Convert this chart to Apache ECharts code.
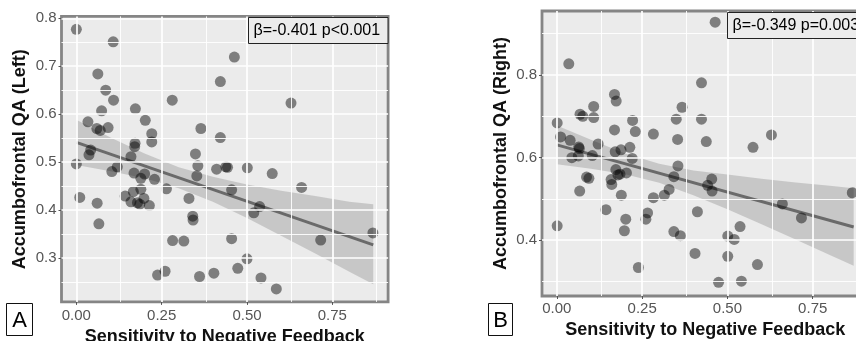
<!DOCTYPE html>
<html><head><meta charset="utf-8">
<script src="https://cdn.jsdelivr.net/npm/echarts@6/dist/echarts.min.js"></script>
<style>html,body{margin:0;padding:0;background:#fff;}#c{width:856px;height:341px;}</style>
</head><body><div id="c"></div>
<script>
// ---------- data ----------
const aX = [0.000,0.108,0.463,0.063,0.422,0.086,0.109,0.281,0.629,0.173,0.074,0.202,0.034,0.365,0.093,0.060,0.070,0.221,0.422,0.221,0.172,0.171,0.349,0.042,0.037,0.000,0.160,0.356,0.120,0.438,0.443,0.501,0.411,0.104,0.574,0.169,0.200,0.353,0.189,0.229,0.660,0.264,0.455,0.189,0.167,0.143,0.010,0.330,0.198,0.160,0.179,0.186,0.061,0.214,0.537,0.520,0.341,0.342,0.066,0.869,0.455,0.282,0.315,0.716,0.500,0.473,0.260,0.238,0.403,0.361,0.541,0.586];
const aY = [0.777,0.751,0.719,0.684,0.668,0.650,0.629,0.629,0.623,0.611,0.607,0.587,0.584,0.570,0.572,0.570,0.566,0.559,0.551,0.542,0.539,0.532,0.517,0.525,0.515,0.496,0.511,0.492,0.490,0.490,0.489,0.488,0.485,0.480,0.476,0.477,0.475,0.471,0.466,0.464,0.447,0.444,0.442,0.443,0.438,0.429,0.426,0.424,0.424,0.417,0.415,0.412,0.414,0.409,0.407,0.394,0.387,0.379,0.371,0.352,0.340,0.336,0.335,0.337,0.298,0.278,0.272,0.264,0.268,0.261,0.258,0.235];
const bX = [0.464,0.035,0.424,0.169,0.174,0.367,0.108,0.068,0.076,0.108,0.350,0.424,0.222,0.001,0.169,0.230,0.283,0.629,0.011,0.039,0.354,0.438,0.121,0.064,0.066,0.214,0.575,0.188,0.171,0.104,0.063,0.044,0.221,0.355,0.173,0.204,0.185,0.179,0.343,0.087,0.094,0.454,0.159,0.161,0.442,0.329,0.455,0.067,0.866,0.315,0.189,0.283,0.661,0.144,0.412,0.266,0.261,0.202,0.717,0.001,0.537,0.198,0.343,0.362,0.501,0.520,0.405,0.501,0.588,0.239,0.474,0.541];
const bY = [0.928,0.827,0.781,0.753,0.737,0.722,0.724,0.705,0.700,0.697,0.693,0.693,0.690,0.684,0.667,0.663,0.657,0.655,0.650,0.642,0.644,0.639,0.633,0.626,0.622,0.625,0.625,0.619,0.614,0.605,0.604,0.600,0.598,0.580,0.571,0.563,0.560,0.558,0.554,0.553,0.550,0.548,0.547,0.535,0.533,0.523,0.519,0.519,0.515,0.509,0.509,0.503,0.488,0.474,0.469,0.466,0.451,0.451,0.454,0.435,0.433,0.423,0.421,0.411,0.410,0.402,0.368,0.361,0.341,0.334,0.298,0.301];

const fitX = [0, 0.87];
const aFitY = [0.541, 0.327];
const bFitY = [0.631, 0.432];

const bandX   = [0, 0.1, 0.2, 0.3, 0.4, 0.5, 0.6, 0.7, 0.8, 0.87];
const aBandLo = [0.494,0.481,0.466,0.445,0.417,0.383,0.346,0.309,0.271,0.245];
const aBandHi = [0.588,0.551,0.518,0.489,0.469,0.453,0.440,0.429,0.417,0.412];
const bBandLo = [0.584,0.573,0.560,0.539,0.509,0.475,0.439,0.402,0.364,0.338];
const bBandHi = [0.678,0.643,0.610,0.585,0.569,0.559,0.549,0.540,0.532,0.526];

const xTicks  = [0, 0.25, 0.5, 0.75];
const xMinor  = [0.125, 0.375, 0.625, 0.875];
const aYTicks = [0.3, 0.4, 0.5, 0.6, 0.7, 0.8];
const aYMinor = [0.25, 0.35, 0.45, 0.55, 0.65, 0.75];
const bYTicks = [0.4, 0.6, 0.8];
const bYMinor = [0.3, 0.5, 0.7, 0.9];

const xTitle = 'Sensitivity to Negative Feedback';
const aYTitle = 'Accumbofrontal QA (Left)';
const bYTitle = 'Accumbofrontal QA (Right)';
const aStat = 'β=-0.401 p<0.001';
const bStat = 'β=-0.349 p=0.003';
const panelTags = ['A', 'B'];

// ---------- chart ----------
const FONT = "'Liberation Sans', Arial, sans-serif";
const chart = echarts.init(document.getElementById('c'), null, {renderer: 'canvas'});

function grid(left, top, width, height) {
  return {left, top, width, height, show: true, backgroundColor: '#EBEBEB',
          borderColor: '#858585', borderWidth: 2.8, containLabel: false, outerBoundsMode: 'none'};
}
function xAxis(gi, gap, margin) {
  return {type: 'value', gridIndex: gi, min: -0.0435, max: 0.9135,
    splitLine: {show: false}, axisLine: {show: false, onZero: false},
    axisTick: {show: true, length: 3, customValues: xTicks, lineStyle: {color: '#555', width: 1}},
    axisLabel: {customValues: xTicks, formatter: v => v.toFixed(2), color: '#555555',
                fontSize: 15, margin, fontFamily: FONT},
    name: xTitle, nameLocation: 'middle', nameGap: gap,
    nameTextStyle: {fontWeight: 'bold', fontSize: 18, color: '#111', fontFamily: FONT}};
}
function yAxis(gi, min, max, ticks, title) {
  return {type: 'value', gridIndex: gi, min, max,
    splitLine: {show: false}, axisLine: {show: false, onZero: false},
    axisTick: {show: true, length: 3, customValues: ticks, lineStyle: {color: '#555', width: 1}},
    axisLabel: {customValues: ticks, formatter: v => v.toFixed(1), color: '#555555',
                fontSize: 15, margin: 5, fontFamily: FONT},
    name: title, nameLocation: 'middle', nameGap: 32, nameRotate: 90,
    nameTextStyle: {fontWeight: 'bold', fontSize: 18, color: '#111', fontFamily: FONT}};
}
function gridLines(gi, yMaj, yMin) {
  const d = [];
  xTicks.forEach(v => d.push({xAxis: v, lineStyle: {width: 1.7}}));
  xMinor.forEach(v => d.push({xAxis: v, lineStyle: {width: 0.9}}));
  yMaj.forEach(v => d.push({yAxis: v, lineStyle: {width: 1.7}}));
  yMin.forEach(v => d.push({yAxis: v, lineStyle: {width: 0.9}}));
  return {type: 'line', xAxisIndex: gi, yAxisIndex: gi, data: [], z: 1, silent: true,
    markLine: {silent: true, symbol: 'none', animation: false, label: {show: false},
      lineStyle: {color: '#FFFFFF', type: 'solid', opacity: 1}, emphasis: {disabled: true}, data: d}};
}
function band(gi, lo, hi) {
  return {type: 'custom', xAxisIndex: gi, yAxisIndex: gi, z: 2, silent: true,
    data: bandX.map((x, i) => [x, lo[i], hi[i]]),
    encode: {x: 0, y: [1, 2]},
    renderItem(params, api) {
      if (params.dataIndex !== 0) return null;
      const pts = [];
      for (let i = 0; i < bandX.length; i++) pts.push(api.coord([bandX[i], hi[i]]));
      for (let i = bandX.length - 1; i >= 0; i--) pts.push(api.coord([bandX[i], lo[i]]));
      return {type: 'polygon', shape: {points: pts}, style: {fill: 'rgba(150,150,150,0.42)'}};
    }};
}
function fit(gi, ys) {
  return {type: 'line', xAxisIndex: gi, yAxisIndex: gi, z: 3, silent: true, showSymbol: false,
    data: fitX.map((x, i) => [x, ys[i]]), lineStyle: {color: '#6A6A6A', width: 3}};
}
function pts(gi, xs, ys) {
  return {type: 'scatter', xAxisIndex: gi, yAxisIndex: gi, z: 4, silent: true,
    symbolSize: 11, data: xs.map((x, i) => [x, ys[i]]),
    itemStyle: {color: 'rgba(0,0,0,0.58)'}};
}
function statBox(x, y, w, h, text) {
  return [
    {type: 'rect', z: 100, shape: {x, y, width: w, height: h},
     style: {fill: '#ECECEC', stroke: '#222', lineWidth: 1}},
    {type: 'text', z: 101, x: x + 5, y: y + h / 2,
     style: {text, fontSize: 16, fontFamily: FONT, fill: '#000', align: 'left', verticalAlign: 'middle'}}
  ];
}
function tagBox(x, y, w, h, text) {
  return [
    {type: 'rect', z: 100, shape: {x, y, width: w, height: h},
     style: {fill: '#fff', stroke: '#111', lineWidth: 1}},
    {type: 'text', z: 101, x: x + w / 2, y: y + h / 2 + 1,
     style: {text, fontSize: 22, fontFamily: FONT, fill: '#000', align: 'center', verticalAlign: 'middle'}}
  ];
}

chart.setOption({
  animation: false,
  backgroundColor: '#fff',
  textStyle: {fontFamily: FONT},
  grid: [grid(61.5, 16.4, 326.6, 285.5), grid(542, 11, 326.5, 285)],
  xAxis: [xAxis(0, 21, 6), xAxis(1, 23.5, 5)],
  yAxis: [yAxis(0, 0.208, 0.804, aYTicks, aYTitle), yAxis(1, 0.265, 0.955, bYTicks, bYTitle)],
  series: [
    gridLines(0, aYTicks, aYMinor), band(0, aBandLo, aBandHi), fit(0, aFitY), pts(0, aX, aY),
    gridLines(1, bYTicks, bYMinor), band(1, bBandLo, bBandHi), fit(1, bFitY), pts(1, bX, bY)
  ],
  graphic: [].concat(
    statBox(248.5, 17.5, 139.5, 26, aStat),
    statBox(727.5, 12.5, 150, 26, bStat),
    tagBox(6.5, 303.5, 26, 32, panelTags[0]),
    tagBox(488.5, 303.5, 24, 32, panelTags[1])
  )
});
</script>
</body></html>
